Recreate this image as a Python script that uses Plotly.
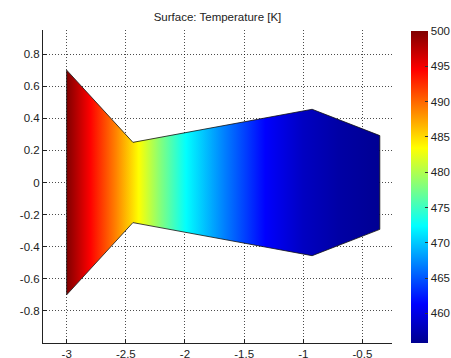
import plotly.graph_objects as go
from plotly.colors import sample_colorscale

# Domain outline (x, y) of the surface
outline_x = [-3.0, -2.44, -0.925, -0.353, -0.353, -0.925, -2.44, -3.0, -3.0]
outline_y = [0.70, 0.25, 0.456, 0.292, -0.292, -0.456, -0.25, -0.70, 0.70]

# Temperature profile read along x [K]
prof_x = [-3.0, -2.8, -2.59, -2.39, -2.2, -1.99, -1.67, -1.32, -1.0, -0.7, -0.353]
prof_T = [500.0, 494.5, 489.0, 483.4, 477.9, 472.4, 466.9, 461.3, 458.3, 456.9, 456.0]

T_min, T_max = 455.8, 500.0
cbar_ticks = [460, 465, 470, 475, 480, 485, 490, 495, 500]
x_ticks = [-3, -2.5, -2, -1.5, -1, -0.5]
x_labels = ["-3", "-2.5", "-2", "-1.5", "-1", "-0.5"]
y_ticks = [-0.8, -0.6, -0.4, -0.2, 0, 0.2, 0.4, 0.6, 0.8]
y_labels = ["-0.8", "-0.6", "-0.4", "-0.2", "0", "0.2", "0.4", "0.6", "0.8"]

jet = [
    [0.0, "rgb(0,0,143)"],
    [0.125, "rgb(0,0,255)"],
    [0.375, "rgb(0,255,255)"],
    [0.625, "rgb(255,255,0)"],
    [0.875, "rgb(255,0,0)"],
    [1.0, "rgb(128,0,0)"],
]

x0, x1 = prof_x[0], prof_x[-1]
stops = [(x - x0) / (x1 - x0) for x in prof_x]
cols = sample_colorscale(jet, [(t - T_min) / (T_max - T_min) for t in prof_T], colortype="rgb")
grad_scale = [[s, c] for s, c in zip(stops, cols)]

font = dict(family="Liberation Sans, Arial, sans-serif", size=11.5, color="#222")

fig = go.Figure()
fig.add_trace(go.Scatter(
    x=outline_x, y=outline_y, mode="lines", fill="toself",
    fillgradient=dict(type="horizontal", colorscale=grad_scale, start=x0, stop=x1),
    line=dict(color="rgba(20,20,20,0.9)", width=0.9),
    hoverinfo="skip", showlegend=False,
))
fig.add_trace(go.Scatter(
    x=prof_x, y=[0] * len(prof_x), mode="markers",
    marker=dict(size=1, opacity=0, color=prof_T, colorscale=jet, cmin=T_min, cmax=T_max,
                showscale=True,
                colorbar=dict(thickness=17, lenmode="pixels", len=312, y=0, yanchor="bottom",
                              x=1.054, xanchor="left", xpad=0, ypad=0,
                              outlinewidth=0, tickvals=cbar_ticks, ticks="inside",
                              ticklen=3, tickcolor="#333", tickfont=font)),
    hoverinfo="skip", showlegend=False,
))

axis_common = dict(
    showgrid=True, gridcolor="rgba(0,0,0,0.7)", gridwidth=1, griddash="1px,2px",
    zeroline=False, showline=True, linecolor="#222", linewidth=1, automargin=False,
    ticks="inside", ticklen=4, tickcolor="#222", tickfont=font, mirror=False,
)
fig.update_xaxes(range=[-3.2, -0.25], tickvals=x_ticks, ticktext=x_labels, **axis_common)
fig.update_yaxes(range=[-1.0, 0.95], tickvals=y_ticks, ticktext=y_labels, **axis_common)

fig.update_layout(
    template="none",
    width=451, height=358,
    margin=dict(l=43, r=59, t=30, b=15, autoexpand=False),
    paper_bgcolor="white", plot_bgcolor="white",
    title=dict(text="Surface: Temperature [K]", font=font, x=0.5, xref="paper",
               y=1 - 17 / 358, yref="container", yanchor="middle"),
    font=font,
)

fig.write_html(
    "out.html",
    config={"displayModeBar": False},
    post_script="document.body.style.margin='0';document.body.style.overflow='hidden';",
)
